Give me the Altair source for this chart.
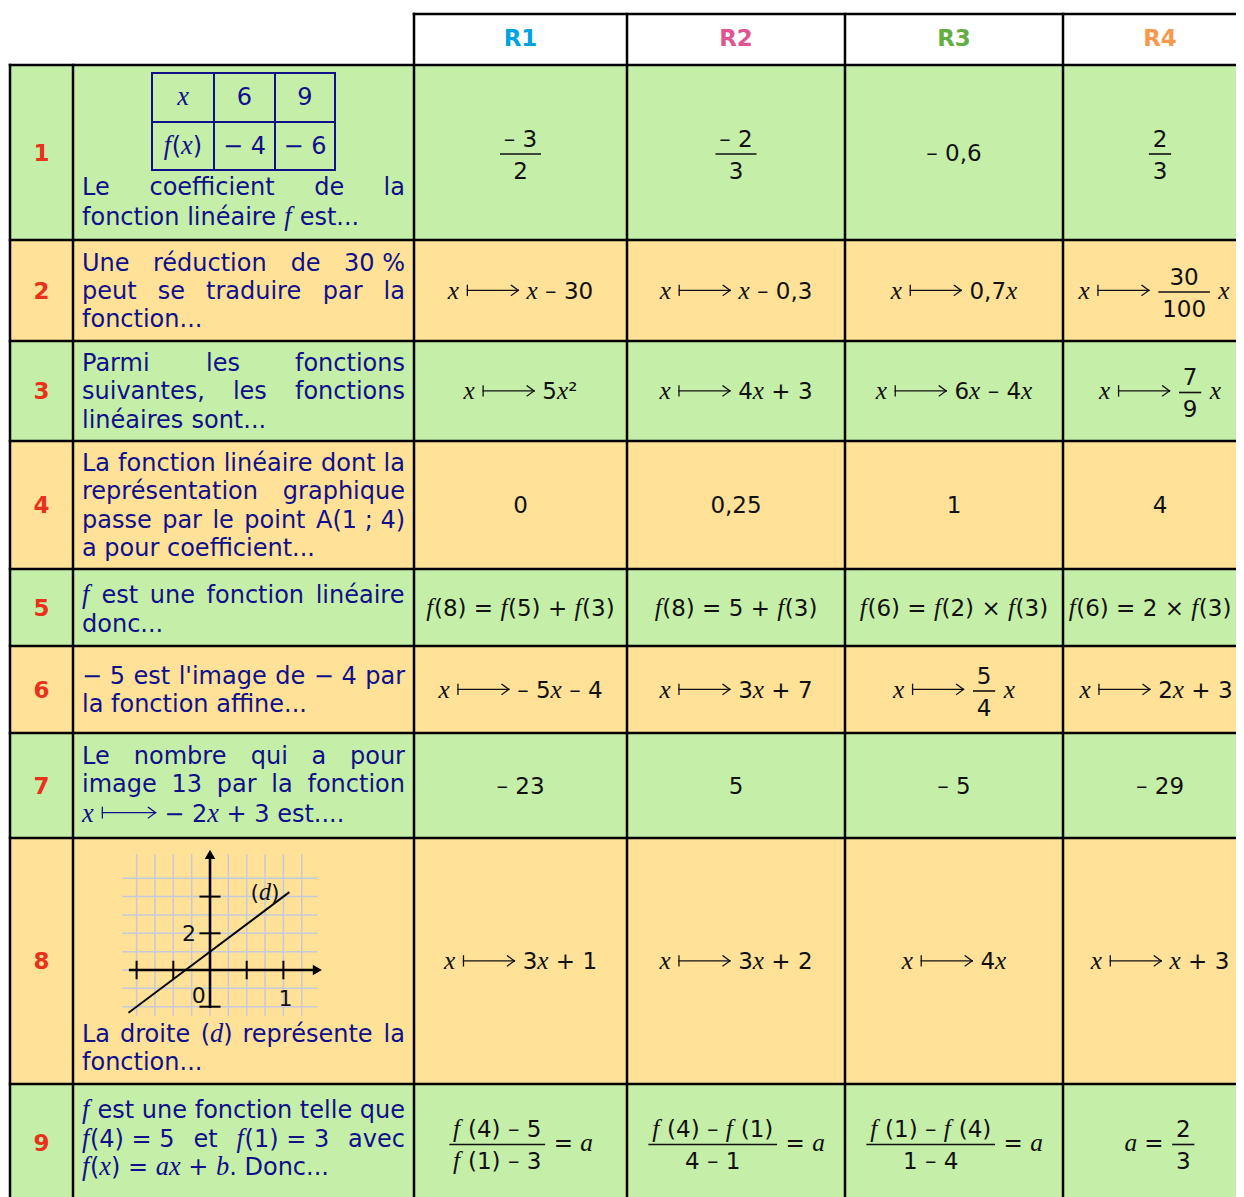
import re
import altair as alt
import pandas as pd

# ---------------- data ----------------
HEADERS = ["R1", "R2", "R3", "R4"]
HEADER_COLORS = ["#00a2e1", "#e2548f", "#64ad41", "#f8984b"]
ROW_LABELS = ["1", "2", "3", "4", "5", "6", "7", "8", "9"]

QUESTIONS = [
    ["Le coefficient de la", "fonction linéaire {f} est..."],
    ["Une réduction de 30\u00a0%", "peut se traduire par la", "fonction..."],
    ["Parmi les fonctions", "suivantes, les fonctions", "linéaires sont..."],
    ["La fonction linéaire dont la", "représentation graphique",
     "passe par le point A(1\u00a0;\u00a04)", "a pour coefficient..."],
    ["{f} est une fonction linéaire", "donc..."],
    ["−\u00a05 est l'image de −\u00a04 par", "la fonction affine..."],
    ["Le nombre qui a pour", "image 13 par la fonction", "{x} ⟼ −\u00a02{x} + 3 est...."],
    ["La droite ({d}) représente la", "fonction..."],
    ["{f} est une fonction telle que", "{f}(4)\u00a0=\u00a05 et {f}(1)\u00a0=\u00a03 avec",
     "{f}({x}) = {a}{x} + {b}. Donc..."],
]

ANSWERS = [
    [[("frac", "– 3", "2")], [("frac", "– 2", "3")], ["– 0,6"], [("frac", "2", "3")]],
    [["{x} ⟼ {x} – 30"], ["{x} ⟼ {x} – 0,3"], ["{x} ⟼ 0,7{x}"],
     ["{x} ⟼ ", ("frac", "30", "100"), " {x}"]],
    [["{x} ⟼ 5{x}²"], ["{x} ⟼ 4{x} + 3"], ["{x} ⟼ 6{x} – 4{x}"],
     ["{x} ⟼ ", ("frac", "7", "9"), " {x}"]],
    [["0"], ["0,25"], ["1"], ["4"]],
    [["{f}(8) = {f}(5) + {f}(3)"], ["{f}(8) = 5 + {f}(3)"],
     ["{f}(6) = {f}(2) × {f}(3)"], ["{f}(6) = 2 × {f}(3)"]],
    [["{x} ⟼ – 5{x} – 4"], ["{x} ⟼ 3{x} + 7"],
     ["{x} ⟼ ", ("frac", "5", "4"), " {x}"], ["{x} ⟼ 2{x} + 3"]],
    [["– 23"], ["5"], ["– 5"], ["– 29"]],
    [["{x} ⟼ 3{x} + 1"], ["{x} ⟼ 3{x} + 2"], ["{x} ⟼ 4{x}"], ["{x} ⟼ {x} + 3"]],
    [[("frac", "{f} (4) – 5", "{f} (1) – 3"), " = {a}"],
     [("frac", "{f} (4) – {f} (1)", "4 – 1"), " = {a}"],
     [("frac", "{f} (1) – {f} (4)", "1 – 4"), " = {a}"],
     ["{a} = ", ("frac", "2", "3")]],
]

MINI_TABLE = [["{x}", "6", "9"], ["{f}({x})", "−\u00a04", "−\u00a06"]]

# graph of question 8 (units: x unit = 4 squares, y unit = 1 square)
GRAPH_SLOPE = 3
GRAPH_INTERCEPT = 1
GRAPH_X_RANGE = [-1.1, 1.07]
GRID_COLS = [-4, -3, -2, -1, 0, 1, 2, 3, 4, 5]   # squares
GRID_ROWS = [-2, -1, 0, 1, 2, 3, 4, 5]            # squares
X_TICKS = [-4, -2, 2, 4]                          # squares
Y_TICKS = [4, 2, -2]                              # squares
GRAPH_LABELS = [("2", -1.14, 2.0), ("0", -0.62, -1.36), ("1", 4.12, -1.53), ("({d})", 3.0, 4.25)]

# ---------------- layout / style ----------------
COL_EDGES = [10, 73, 414, 627, 845, 1063, 1257]
ROW_EDGES = [14, 65, 240, 341, 441, 569, 646, 733, 838, 1084, 1202]
Q_BASELINES = [
    [194.5, 224.5], [270.7, 299.0, 327.3], [371.0, 399.3, 427.6],
    [471.0, 499.3, 527.6, 555.9], [603.3, 631.6], [684.0, 712.3],
    [764.0, 792.3, 821.5], [1041.7, 1070.0], [1118.3, 1146.6, 1174.9],
]
CELL_SHIFT = {(1, 3): -6, (4, 3): -10, (5, 3): -4}   # keep the last column inside the page
Q_LEFT, Q_RIGHT = 82, 405
GREEN, YELLOW = "#c5efa8", "#ffe198"
NAVY, BLACK, RED = "#10108a", "#111111", "#e8321c"
Q_SIZE, A_SIZE = 24, 23
ITAL = 1.1
ARROW_SLOT = 2.3

SANS_W = {' ': .318, '\u00a0': .318, '%': .950, "'": .275, '(': .390, ')': .390, '+': .838,
          ',': .318, '-': .361, '.': .318, ';': .337, '=': .838, '×': .838, '−': .838,
          '–': .5, '²': .401, 'A': .684, 'D': .770, 'L': .557, 'P': .603, 'R': .695, 'U': .732,
          'a': .613, 'b': .635, 'c': .550, 'd': .635, 'e': .615, 'é': .615, 'f': .352, 'g': .635,
          'h': .634, 'i': .278, 'l': .278, 'm': .974, 'n': .634, 'o': .612, 'p': .635, 'q': .635,
          'r': .411, 's': .521, 't': .392, 'u': .634, 'v': .592, 'x': .592, 'y': .592}
for _d in "0123456789":
    SANS_W[_d] = .636
SERIF_I_W = {'x': .444, 'f': .30, 'd': .5, 'a': .5, 'b': .5}

texts, rules, rects, points = [], [], [], []


def add_text(x, y, t, kind, size, color, align="left"):
    texts.append(dict(x=x, y=y, text=t, kind=kind, size=size, color=color, align=align))


def add_rule(x, x2, y, y2, color, w):
    rules.append(dict(x=x, x2=x2, y=y, y2=y2, color=color, w=w))


def parse(markup):
    out = []
    for tok in re.split(r"(\{[^}]*\}|⟼)", markup):
        if not tok:
            continue
        if tok.startswith("{"):
            out.append(("i", tok[1:-1]))
        elif tok == "⟼":
            out.append(("A", tok))
        else:
            out.append(("s", tok))
    return out


def run_w(kind, t, sz):
    if kind == "A":
        return ARROW_SLOT * sz
    if kind == "i":
        return sum(SERIF_I_W.get(c, .5) for c in t) * sz * ITAL
    return sum(SANS_W.get(c, .6) for c in t) * sz


def runs_w(runs, sz):
    return sum(run_w(k, t, sz) for k, t in runs)


def draw_arrow(x0, w, base, sz, color):
    ya = base - 0.37 * sz
    h = 0.22 * sz
    xe = x0 + w - 1
    add_rule(x0 + 1, x0 + 1, ya - h, ya + h, color, 1.3)
    add_rule(x0 + 1, xe, ya, ya, color, 1.3)
    add_rule(xe - 0.3 * sz, xe, ya - h, ya, color, 1.3)
    add_rule(xe - 0.3 * sz, xe, ya + h, ya, color, 1.3)


def draw_runs(runs, x0, base, sz, color):
    for k, t in runs:
        w = run_w(k, t, sz)
        if k == "A":
            draw_arrow(x0, w, base, sz, color)
        else:
            s = t.lstrip(" ")
            lead = run_w(k, t[:len(t) - len(s)], sz)
            s = s.rstrip(" ")
            if s:
                if k == "i":
                    add_text(x0 + lead, base, s, "serif_i", sz * ITAL, color)
                else:
                    add_text(x0 + lead, base, s, "sans", sz, color)
        x0 += w
    return x0


def draw_line(markup, x0, x1, base, sz, color, justify):
    words = [parse(w) for w in markup.split(" ")]
    widths = [runs_w(w, sz) for w in words]
    if justify and len(words) > 1:
        gap = (x1 - x0 - sum(widths)) / (len(words) - 1)
    else:
        gap = SANS_W[" "] * sz
    x = x0
    for w, wd in zip(words, widths):
        draw_runs(w, x, base, sz, color)
        x += wd + gap


def part_w(p, sz):
    if isinstance(p, tuple):
        return max(runs_w(parse(p[1]), sz), runs_w(parse(p[2]), sz)) + 10
    return runs_w(parse(p), sz)


def draw_answer(parts, cx, cy, sz, color):
    total = sum(part_w(p, sz) for p in parts)
    x = cx - total / 2
    base = cy + 0.365 * sz
    for p in parts:
        if isinstance(p, tuple):
            num, den = parse(p[1]), parse(p[2])
            nw, dw = runs_w(num, sz), runs_w(den, sz)
            bar = max(nw, dw) + 6
            bc = x + 2 + bar / 2
            ybar = cy + 1.5
            add_rule(x + 2, x + 2 + bar, ybar, ybar, color, 1.6)
            draw_runs(num, bc - nw / 2, ybar - 7.5, sz, color)
            draw_runs(den, bc - dw / 2, ybar + 24.5, sz, color)
            x += bar + 4
        else:
            r = parse(p)
            draw_runs(r, x, base, sz, color)
            x += runs_w(r, sz)


# backgrounds
for i in range(9):
    rects.append(dict(x=COL_EDGES[0], x2=COL_EDGES[-1], y=ROW_EDGES[i + 1], y2=ROW_EDGES[i + 2],
                      color=GREEN if i % 2 == 0 else YELLOW))

# table borders
add_rule(COL_EDGES[2], COL_EDGES[-1], ROW_EDGES[0], ROW_EDGES[0], "#000", 2.5)
for yy in ROW_EDGES[1:]:
    add_rule(COL_EDGES[0], COL_EDGES[-1], yy, yy, "#000", 2.5)
for j, xx in enumerate(COL_EDGES):
    top = ROW_EDGES[1] if j < 2 else ROW_EDGES[0]
    add_rule(xx, xx, top, ROW_EDGES[-1], "#000", 2.5)

# headers
for j, (h, c) in enumerate(zip(HEADERS, HEADER_COLORS)):
    cx = (COL_EDGES[j + 2] + COL_EDGES[j + 3]) / 2
    add_text(cx, (ROW_EDGES[0] + ROW_EDGES[1]) / 2 + 6.5, h, "bold", 23, c, "center")

# rows
for i in range(9):
    cy = (ROW_EDGES[i + 1] + ROW_EDGES[i + 2]) / 2
    add_text((COL_EDGES[0] + COL_EDGES[1]) / 2, cy + 8.4, ROW_LABELS[i], "bold", 23, RED, "center")
    lines = QUESTIONS[i]
    for k, (ln, base) in enumerate(zip(lines, Q_BASELINES[i])):
        draw_line(ln, Q_LEFT, Q_RIGHT, base, Q_SIZE, NAVY, k < len(lines) - 1)
    for j in range(4):
        cx = (COL_EDGES[j + 2] + COL_EDGES[j + 3]) / 2 + CELL_SHIFT.get((i, j), 0)
        draw_answer(ANSWERS[i][j], cx, cy, A_SIZE, BLACK)

# mini table (question 1)
MT_X = [152, 214, 275, 335]
MT_Y = [73, 122, 170]
for xx in MT_X:
    add_rule(xx, xx, MT_Y[0], MT_Y[-1], NAVY, 2)
for yy in MT_Y:
    add_rule(MT_X[0], MT_X[-1], yy, yy, NAVY, 2)
for r in range(2):
    for c in range(3):
        draw_answer([MINI_TABLE[r][c]], (MT_X[c] + MT_X[c + 1]) / 2,
                    (MT_Y[r] + MT_Y[r + 1]) / 2 - 1, 24, NAVY)

# graph (question 8)
SQ, OX, OY = 18.35, 210, 970
GRID_C = "#c6c9d9"


def gx(s):
    return OX + s * SQ


def gy(s):
    return OY - s * SQ


for k in GRID_COLS:
    add_rule(gx(k), gx(k), gy(6.27), gy(-2.45), GRID_C, 1.5)
for k in GRID_ROWS:
    add_rule(gx(-4.74), gx(5.83), gy(k), gy(k), GRID_C, 1.5)
add_rule(gx(-4.35), gx(5.8), gy(0), gy(0), "#000", 2.6)
add_rule(gx(0), gx(0), gy(-2.0), gy(6.3), "#000", 2.6)
for k in X_TICKS:
    add_rule(gx(k), gx(k), gy(0.45), gy(-0.45), "#000", 2)
for k in Y_TICKS:
    add_rule(gx(-0.52), gx(0.52), gy(k), gy(k), "#000", 2)
x_a, x_b = GRAPH_X_RANGE
add_rule(gx(4 * x_a), gx(4 * x_b), gy(GRAPH_SLOPE * x_a + GRAPH_INTERCEPT),
         gy(GRAPH_SLOPE * x_b + GRAPH_INTERCEPT), "#000", 2)
points.append(dict(x=gx(5.85), y=gy(0), shape="triangle-right", size=110))
points.append(dict(x=gx(0), y=gy(6.3), shape="triangle-up", size=110))
for lab, sx, sy in GRAPH_LABELS:
    draw_answer([lab], gx(sx), gy(sy), 22, BLACK)

# ---------------- chart ----------------
W, H = 1228, 1189
XS = alt.Scale(domain=[8, 8 + W], nice=False, zero=False)
YS = alt.Scale(domain=[8, 8 + H], nice=False, zero=False, reverse=True)

rect_df = pd.DataFrame(rects)
rule_df = pd.DataFrame(rules)
text_df = pd.DataFrame(texts)
pt_df = pd.DataFrame(points)

layers = [
    alt.Chart(rect_df).mark_rect(strokeWidth=0).encode(
        x=alt.X("x:Q", scale=XS, axis=None), x2="x2:Q",
        y=alt.Y("y:Q", scale=YS, axis=None), y2="y2:Q",
        color=alt.Color("color:N", scale=None)),
    alt.Chart(rule_df).mark_rule(strokeCap="square").encode(
        x=alt.X("x:Q", scale=XS, axis=None), x2="x2:Q",
        y=alt.Y("y:Q", scale=YS, axis=None), y2="y2:Q",
        color=alt.Color("color:N", scale=None),
        size=alt.Size("w:Q", scale=None)),
    alt.Chart(pt_df).mark_point(filled=True, opacity=1, color="#000").encode(
        x=alt.X("x:Q", scale=XS, axis=None),
        y=alt.Y("y:Q", scale=YS, axis=None),
        shape=alt.Shape("shape:N", scale=None),
        size=alt.Size("size:Q", scale=None)),
]

FONTS = {
    "sans": dict(font="DejaVu Sans", fontStyle="normal", fontWeight="normal"),
    "bold": dict(font="DejaVu Sans", fontStyle="normal", fontWeight="bold"),
    "serif_i": dict(font="Liberation Serif", fontStyle="italic", fontWeight="normal"),
}
for (kind, align), sub in text_df.groupby(["kind", "align"]):
    layers.append(
        alt.Chart(sub.reset_index(drop=True)).mark_text(
            align=align, baseline="alphabetic", **FONTS[kind]).encode(
            x=alt.X("x:Q", scale=XS, axis=None),
            y=alt.Y("y:Q", scale=YS, axis=None),
            text="text:N",
            color=alt.Color("color:N", scale=None),
            size=alt.Size("size:Q", scale=None)))

chart = alt.layer(*layers).properties(
    width=W, height=H, padding=0, background="white",
    autosize=alt.AutoSizeParams(type="none"),
).configure_view(stroke=None)

chart.save("out.html", embed_options={"renderer": "svg", "actions": False})
